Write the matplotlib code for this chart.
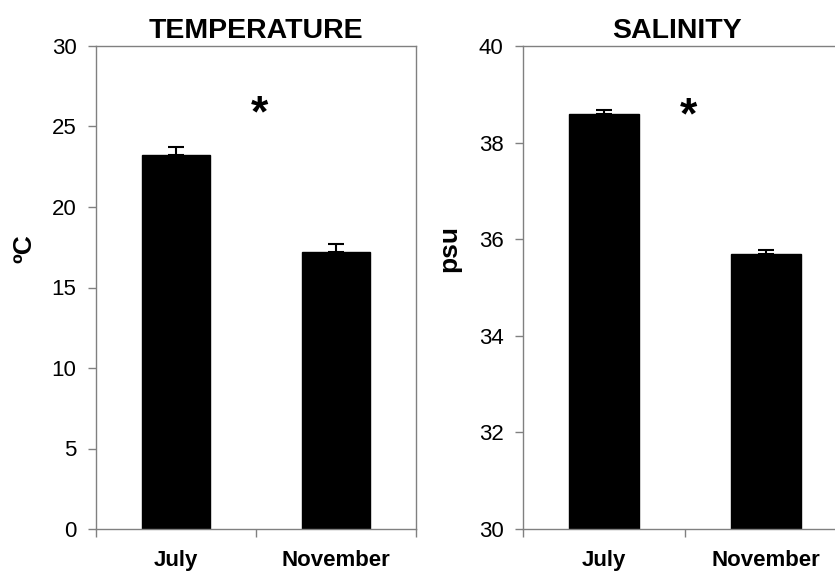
import matplotlib.pyplot as plt
import numpy as np

plt.rcParams['font.family'] = ['Liberation Sans', 'DejaVu Sans']

months = ['July', 'November']
temp_mean = [23.2, 17.2]
temp_err = [0.55, 0.5]
sal_mean = [38.6, 35.7]
sal_err = [0.08, 0.08]

temp_ticks = [0, 5, 10, 15, 20, 25, 30]
sal_ticks = [30, 32, 34, 36, 38, 40]

SPINE = '#808080'


def style_axes(ax, ylim, yticks):
    x = np.arange(1, len(months) + 1)
    ax.set_xlim(0.5, len(months) + 0.5)
    ax.set_ylim(*ylim)
    ax.set_yticks(yticks)
    ax.set_yticklabels([str(t) for t in yticks], fontsize=16)
    # category labels centred, separator ticks between categories
    ax.set_xticks(x)
    ax.set_xticklabels(months, fontsize=16, fontweight='bold')
    ax.set_xticks(np.arange(0.5, len(months) + 1), minor=True)
    ax.tick_params(axis='x', which='major', length=0, pad=15)
    ax.tick_params(axis='x', which='minor', length=6, width=1, color=SPINE, direction='out')
    ax.tick_params(axis='y', length=6, width=1, color=SPINE, direction='out', pad=8)
    for s in ax.spines.values():
        s.set_color(SPINE)
        s.set_linewidth(1)


def draw_bars(ax, means, errs):
    x = np.arange(1, len(months) + 1)
    ax.bar(x, means, width=0.43, color='black', edgecolor='black',
           yerr=[np.zeros(len(errs)), errs], capsize=6,
           error_kw=dict(ecolor='black', elinewidth=1.5, capthick=1.5))


fig = plt.figure(figsize=(8.35, 5.73), dpi=100)
ax1 = fig.add_axes([96 / 835, 1 - 529 / 573, 320 / 835, 483 / 573])
ax2 = fig.add_axes([523 / 835, 1 - 529 / 573, 324 / 835, 483 / 573])

# temperature
draw_bars(ax1, temp_mean, temp_err)
style_axes(ax1, (0, 30), temp_ticks)
ax1.set_title('TEMPERATURE', fontsize=20.5, fontweight='bold', pad=6)
ax1.set_ylabel('ºC', fontsize=19, fontweight='bold')
ax1.yaxis.set_label_coords(-0.185, 0.58)
ax1.text(1.52, 25.7, '*', fontsize=32, fontweight='bold', ha='center', va='center')

# salinity
draw_bars(ax2, sal_mean, sal_err)
style_axes(ax2, (30, 40), sal_ticks)
ax2.set_title('SALINITY', fontsize=20.5, fontweight='bold', pad=6, x=(677 - 523) / 324)
ax2.set_ylabel('psu', fontsize=19, fontweight='bold')
ax2.yaxis.set_label_coords(-0.19, 0.58)
ax2.text(1.52, 38.53, '*', fontsize=32, fontweight='bold', ha='center', va='center')

fig.savefig('out.png', dpi=100)
